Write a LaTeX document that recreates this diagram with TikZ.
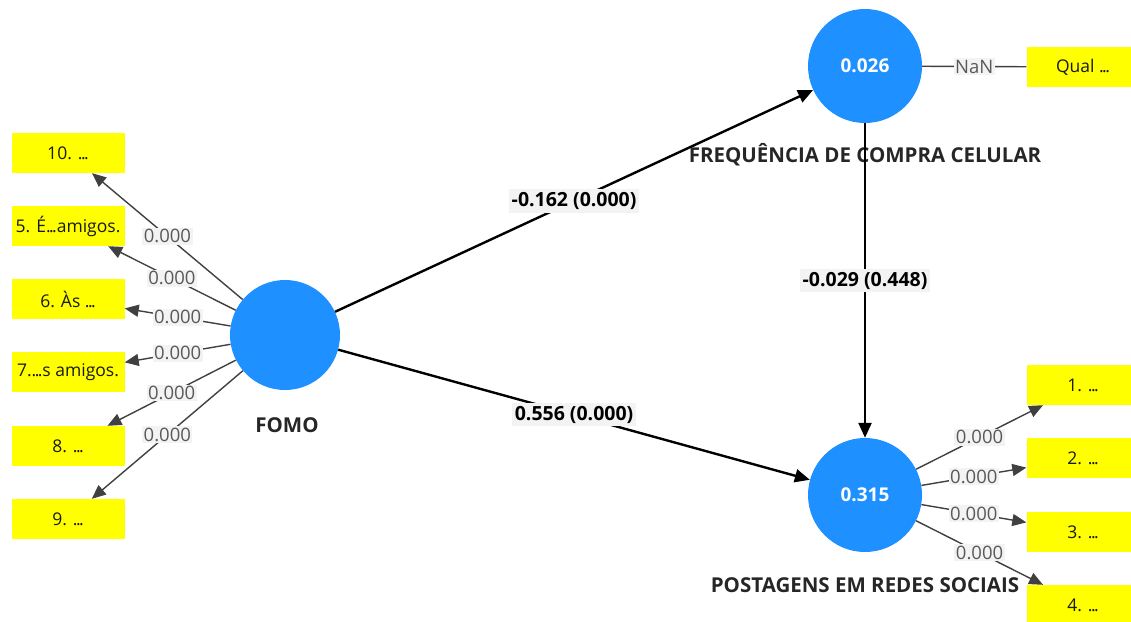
\documentclass[tikz,border=0pt]{standalone}
\usepackage{fontspec}
\setmainfont{Open Sans}
\usetikzlibrary{arrows.meta}
\definecolor{cblue}{RGB}{30,144,255}
\definecolor{cyel}{RGB}{255,255,0}
\definecolor{lblbg}{RGB}{243,243,243}
\newcommand{\tdots}{.\kern-1.6pt.\kern-1.6pt.}
\begin{document}
\begin{tikzpicture}[x=1pt,y=-1pt,
 lv/.style={circle,fill=cblue,draw=none,minimum size=114pt,inner sep=0pt,text=white,font=\fontsize{19}{19}\selectfont\bfseries},
 ind/.style={rectangle,fill=cyel,minimum width=113pt,minimum height=40pt,inner sep=0pt,text=black!90,font=\fontsize{17.5}{17.5}\selectfont},
 lvname/.style={text=black!85,font=\fontsize{20.5}{20.5}\selectfont\bfseries},
 load/.style={draw=black!75,line width=1.4pt},
 ldarrow/.style={load,-{Triangle[length=14pt,width=12pt]}},
 patharrow/.style={draw=black,line width=2.4pt,-{Triangle[length=15pt,width=13pt]}},
 ll/.style={fill=lblbg,text=black!65,inner sep=1.5pt,font=\fontsize{18.5}{18.5}\selectfont},
 pl/.style={fill=lblbg,text=black,inner sep=3pt,font=\fontsize{19.5}{19.5}\selectfont\bfseries}]
\useasboundingbox (0,0) rectangle (1131,621);

% latent variables
\node[lv,minimum size=110pt] (fomo) at (285,335) {};
\node[lv] (freq) at (865,66) {0.026};
\node[lv] (post) at (865,495) {0.315};

\node[lvname] (fomoname) at (287,425) {FOMO};
\node[lvname] (freqname) at (865,155) {FREQUÊNCIA DE COMPRA CELULAR};
\node[lvname] (postname) at (865,585) {POSTAGENS EM REDES SOCIAIS};

% indicators left
\node[ind] (b10) at (68,153) {10. \tdots};
\node[ind] (b5) at (68,226) {5. É\tdots amigos.};
\node[ind] (b6) at (68,299) {6. Às \tdots};
\node[ind] (b7) at (68,372) {7.\tdots s amigos.};
\node[ind] (b8) at (68,446) {8. \tdots};
\node[ind] (b9) at (68,519) {9. \tdots};

% indicators right
\node[ind] (bq) at (1083,67) {Qual \tdots};
\node[ind] (b1) at (1083,385) {1. \tdots};
\node[ind] (b2) at (1083,458) {2. \tdots};
\node[ind] (b3) at (1083,532) {3. \tdots};
\node[ind] (b4) at (1083,605) {4. \tdots};

% loadings
\draw[ldarrow] (fomo) -- node[ll] (l10) {0.000} (b10);
\draw[ldarrow] (fomo) -- node[ll] (l5) {0.000} (b5);
\draw[ldarrow] (fomo) -- node[ll] (l6) {0.000} (b6);
\draw[ldarrow] (fomo) -- node[ll] (l7) {0.000} (b7);
\draw[ldarrow] (fomo) -- node[ll] (l8) {0.000} (b8);
\draw[ldarrow] (fomo) -- node[ll] (l9) {0.000} (b9);

\draw[load] (freq) -- node[ll] (lq) {NaN} (bq);

\draw[ldarrow] (post) -- node[ll] (l1) {0.000} (b1);
\draw[ldarrow] (post) -- node[ll] (l2) {0.000} (b2);
\draw[ldarrow] (post) -- node[ll] (l3) {0.000} (b3);
\draw[ldarrow] (post) -- node[ll] (l4) {0.000} (b4);

% structural paths
\draw[patharrow] (fomo) -- node[pl] (p1) {-0.162 (0.000)} (freq);
\draw[patharrow] (fomo) -- node[pl] (p2) {0.556 (0.000)} (post);
\draw[patharrow] (freq) -- node[pl] (p3) {-0.029 (0.448)} (post);
\end{tikzpicture}
\end{document}
